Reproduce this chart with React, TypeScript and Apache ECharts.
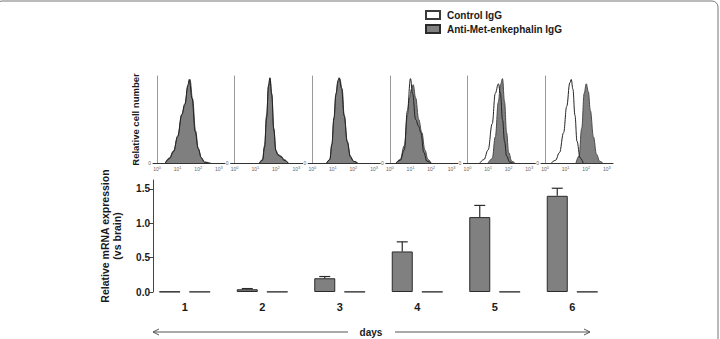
import { useEffect, useRef } from "react";
import * as echarts from "echarts";

// Bar chart: relative mRNA expression per day (vs brain)
const days = ["1", "2", "3", "4", "5", "6"];
const antiMean = [0.005, 0.04, 0.2, 0.59, 1.09, 1.4];
const antiSem = [0, 0.01, 0.025, 0.14, 0.17, 0.11];
const controlMean = [0.004, 0.004, 0.004, 0.004, 0.004, 0.004];
const yTicks = [0, 0.5, 1, 1.5];

// Flow cytometry histograms: [log10 fluorescence, relative cell count]
const decadeTicks = [0, 1, 2, 3];
const day1Control = [[0.4, 0], [0.6, 5], [0.8, 13], [1.0, 31], [1.2, 56], [1.35, 68], [1.5, 90], [1.56, 96], [1.7, 74], [1.85, 36], [2.0, 16], [2.15, 6], [2.3, 1], [2.5, 0]];
const day1Anti = [[0.4, 0], [0.6, 6], [0.8, 14], [1.0, 30], [1.2, 55], [1.35, 67], [1.5, 88], [1.6, 96], [1.72, 74], [1.87, 37], [2.0, 17], [2.15, 6], [2.3, 1], [2.6, 0]];
const day2Control = [[1.2, 0], [1.35, 3], [1.45, 18], [1.55, 52], [1.64, 88], [1.71, 98], [1.8, 78], [1.9, 38], [2.0, 14], [2.1, 9], [2.25, 7], [2.4, 3], [2.6, 0]];
const day2Anti = [[1.2, 0], [1.35, 4], [1.45, 20], [1.55, 55], [1.65, 90], [1.72, 97], [1.8, 80], [1.9, 40], [2.0, 15], [2.1, 10], [2.25, 8], [2.4, 4], [2.6, 0]];
const day3Control = [[0.7, 0], [0.85, 4], [0.95, 22], [1.05, 52], [1.15, 80], [1.25, 95], [1.3, 98], [1.42, 86], [1.55, 54], [1.7, 24], [1.85, 7], [2.0, 2], [2.2, 0]];
const day3Anti = [[0.7, 0], [0.85, 4], [0.95, 20], [1.05, 50], [1.15, 78], [1.25, 93], [1.33, 97], [1.45, 85], [1.55, 55], [1.7, 25], [1.85, 8], [2.0, 2], [2.2, 0]];
const day4Control = [[0.3, 0], [0.5, 3], [0.7, 15], [0.85, 60], [1.0, 97], [1.1, 80], [1.25, 50], [1.4, 42], [1.5, 35], [1.65, 12], [1.8, 2], [2.0, 0]];
const day4Anti = [[0.3, 0], [0.5, 4], [0.7, 20], [0.85, 55], [0.95, 75], [1.05, 85], [1.13, 90], [1.25, 75], [1.4, 50], [1.55, 35], [1.7, 15], [1.85, 4], [2.0, 0]];
const day5Control = [[0.6, 0], [0.8, 4], [1.0, 15], [1.2, 45], [1.35, 80], [1.5, 91], [1.6, 80], [1.7, 50], [1.8, 25], [1.9, 8], [2.05, 1], [2.2, 0]];
const day5Anti = [[1.0, 0], [1.2, 5], [1.35, 30], [1.5, 70], [1.6, 90], [1.7, 97], [1.8, 70], [1.9, 35], [2.0, 12], [2.15, 2], [2.3, 0]];
const day6Control = [[0.3, 0], [0.5, 3], [0.7, 12], [0.9, 35], [1.05, 65], [1.2, 92], [1.27, 96], [1.35, 85], [1.45, 55], [1.55, 25], [1.7, 6], [1.85, 0]];
const day6Anti = [[1.5, 0], [1.65, 8], [1.78, 40], [1.9, 80], [2.0, 91], [2.1, 82], [2.2, 60], [2.35, 30], [2.5, 10], [2.65, 2], [2.8, 0]];

const controlCurves = [day1Control, day2Control, day3Control, day4Control, day5Control, day6Control];
const antiCurves = [day1Anti, day2Anti, day3Anti, day4Anti, day5Anti, day6Anti];

const FONT = "'Liberation Sans', Arial, Helvetica, sans-serif";
const BAR_W = 21;
const BAR_GAP_PX = 9;
const CAP_W = 11;
const HIST_LEFT = 153;
const HIST_STEP = 77.6;

function buildOption(): echarts.EChartsOption {
  const antiOffset = -(BAR_W + BAR_GAP_PX) / 2;

  const grids: any[] = [{ left: 146, top: 180, width: 465, height: 112 }];
  const xAxes: any[] = [
    {
      gridIndex: 0,
      type: "category",
      data: days,
      axisLine: { show: false },
      axisTick: { show: false },
      axisLabel: { fontFamily: FONT, fontSize: 11, fontWeight: "bold", color: "#1a1a1a", margin: 9 },
    },
  ];
  const yAxes: any[] = [
    {
      gridIndex: 0,
      type: "value",
      min: 0,
      max: 1.63,
      offset: -7,
      splitLine: { show: false },
      axisLine: { show: true, lineStyle: { color: "#444", width: 1 } },
      axisTick: { show: true, length: 4, customValues: yTicks, lineStyle: { color: "#444" } },
      axisLabel: {
        customValues: yTicks,
        formatter: (v: number) => v.toFixed(1),
        fontFamily: FONT,
        fontSize: 10,
        fontWeight: "bold",
        color: "#1a1a1a",
        margin: 3,
      },
      name: "Relative mRNA expression\n(vs brain)",
      nameLocation: "middle",
      nameRotate: 90,
      nameGap: 30,
      nameTextStyle: { fontFamily: FONT, fontSize: 10.5, fontWeight: "bold", color: "#1a1a1a", lineHeight: 12 },
    },
  ];

  const series: any[] = [
    {
      name: "Anti-Met-enkephalin IgG",
      type: "bar",
      xAxisIndex: 0,
      yAxisIndex: 0,
      data: antiMean,
      barWidth: BAR_W,
      barGap: `${(BAR_GAP_PX / BAR_W) * 100}%`,
      itemStyle: { color: "#808080", borderColor: "#2a2a2a", borderWidth: 1 },
      z: 3,
    },
    {
      name: "Control IgG",
      type: "bar",
      xAxisIndex: 0,
      yAxisIndex: 0,
      data: controlMean,
      barWidth: BAR_W,
      itemStyle: { color: "#ffffff", borderColor: "#3a3a3a", borderWidth: 1 },
      z: 3,
    },
    {
      type: "custom",
      xAxisIndex: 0,
      yAxisIndex: 0,
      z: 2,
      data: days.map((_, i) => [i, antiMean[i], antiSem[i]]),
      renderItem: (_params: any, api: any) => {
        const i = api.value(0);
        const m = api.value(1);
        const e = api.value(2);
        if (!e) return { type: "group", children: [] };
        const base = api.coord([i, m]);
        const top = api.coord([i, m + e]);
        const x = base[0] + antiOffset;
        const style = { stroke: "#2a2a2a", lineWidth: 1.2 };
        return {
          type: "group",
          children: [
            { type: "line", shape: { x1: x, y1: base[1], x2: x, y2: top[1] }, style },
            { type: "line", shape: { x1: x - CAP_W / 2, y1: top[1], x2: x + CAP_W / 2, y2: top[1] }, style },
          ],
        };
      },
    },
  ];

  for (let p = 0; p < 6; p++) {
    const g = p + 1;
    grids.push({ left: HIST_LEFT + HIST_STEP * p, top: 76, width: 72, height: 87 });
    xAxes.push({
      gridIndex: g,
      type: "value",
      min: -0.2,
      max: 3.3,
      splitLine: { show: false },
      axisLine: { show: true, lineStyle: { color: "#333", width: 1 } },
      axisTick: { show: false },
      axisLabel: {
        customValues: decadeTicks,
        margin: 2,
        formatter: (v: number) => `{b|10}{s|${v}}`,
        rich: {
          b: { fontFamily: FONT, fontSize: 5, color: "#666" },
          s: { fontFamily: FONT, fontSize: 4, color: "#666", padding: [0, 0, 3, 0] },
        },
      },
    });
    yAxes.push({
      gridIndex: g,
      type: "value",
      min: 0,
      max: 100,
      splitLine: { show: false },
      axisLine: { show: true, lineStyle: { color: "#999", width: 1 } },
      axisTick: { show: false },
      axisLabel: { customValues: [0], fontFamily: FONT, fontSize: 5, color: "#666", margin: 2 },
      ...(p === 0
        ? {
            name: "Relative cell number",
            nameLocation: "middle",
            nameRotate: 90,
            nameGap: 13,
            nameTextStyle: { fontFamily: FONT, fontSize: 9.5, fontWeight: "bold", color: "#1a1a1a" },
          }
        : {}),
    });
    series.push({
      type: "line",
      xAxisIndex: g,
      yAxisIndex: g,
      data: antiCurves[p],
      smooth: 0.4,
      smoothMonotone: "x",
      showSymbol: false,
      lineStyle: { color: "#4a4a4a", width: 1 },
      areaStyle: { color: "#7f7f7f", opacity: 1 },
      z: 2,
    });
    series.push({
      type: "line",
      xAxisIndex: g,
      yAxisIndex: g,
      data: controlCurves[p],
      smooth: 0.4,
      smoothMonotone: "x",
      showSymbol: false,
      lineStyle: { color: "#222", width: 1 },
      z: 3,
    });
  }

  const arrowY = 332;
  const arrowStyle = { stroke: "#555", lineWidth: 1, fill: "none" };

  return {
    animation: false,
    backgroundColor: "#ffffff",
    textStyle: { fontFamily: FONT },
    grid: grids,
    xAxis: xAxes,
    yAxis: yAxes,
    legend: {
      orient: "vertical",
      left: 425,
      top: 10,
      padding: 0,
      itemWidth: 14,
      itemHeight: 8,
      itemGap: 4,
      icon: "rect",
      data: [{ name: "Control IgG" }, { name: "Anti-Met-enkephalin IgG" }],
      textStyle: { fontFamily: FONT, fontSize: 10, fontWeight: "bold", color: "#1a1a1a", padding: [0, 0, 0, 2] },
    },
    graphic: [
      {
        type: "rect",
        shape: { x: -4, y: 1, width: 722, height: 360, r: 6 },
        style: { fill: "none", stroke: "#777", lineWidth: 1 },
        silent: true,
      },
      { type: "line", shape: { x1: 153, y1: arrowY, x2: 348, y2: arrowY }, style: arrowStyle },
      { type: "line", shape: { x1: 395, y1: arrowY, x2: 590, y2: arrowY }, style: arrowStyle },
      { type: "polyline", shape: { points: [[159, arrowY - 3], [153, arrowY], [159, arrowY + 3]] }, style: arrowStyle },
      { type: "polyline", shape: { points: [[584, arrowY - 3], [590, arrowY], [584, arrowY + 3]] }, style: arrowStyle },
      {
        type: "text",
        x: 371,
        y: arrowY,
        style: {
          text: "days",
          fontFamily: FONT,
          fontSize: 10,
          fontWeight: "bold",
          fill: "#1a1a1a",
          align: "center",
          verticalAlign: "middle",
        },
      },
    ],
    series,
  } as echarts.EChartsOption;
}

export default function App() {
  const ref = useRef<HTMLDivElement>(null);
  useEffect(() => {
    if (!ref.current) return;
    const chart = echarts.init(ref.current, undefined, { renderer: "svg" });
    chart.setOption(buildOption());
    return () => chart.dispose();
  }, []);
  return <div ref={ref} style={{ position: "absolute", left: 0, top: 0, width: 720, height: 339 }} />;
}
